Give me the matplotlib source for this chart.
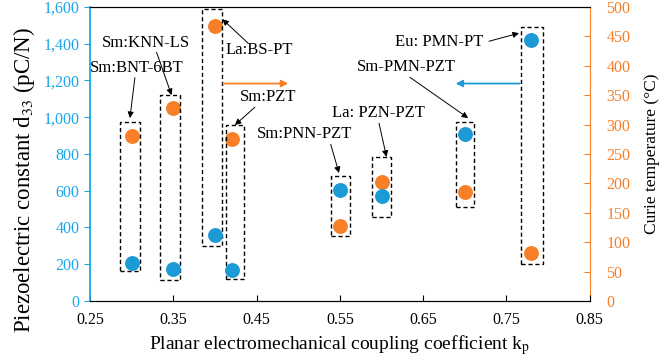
import matplotlib
matplotlib.use("Agg")
import matplotlib.pyplot as plt
from matplotlib.patches import Rectangle
from matplotlib.ticker import FuncFormatter

plt.rcParams['font.family'] = ['Liberation Serif', 'DejaVu Serif']
plt.rcParams['mathtext.fontset'] = 'stix'

BLUE = '#1c9ad6'
ORANGE = '#f77f27'
AX_BLUE = '#1aa7e8'

# data
kp = [0.30, 0.35, 0.40, 0.42, 0.55, 0.60, 0.70, 0.78]
d33 = [205, 175, 360, 170, 605, 570, 910, 1420]
tc = [280, 328, 467, 275, 128, 203, 185, 82]
names = ['Sm:BNT-6BT', 'Sm:KNN-LS', 'La:BS-PT', 'Sm:PZT',
         'Sm:PNN-PZT', 'La: PZN-PZT', 'Sm-PMN-PZT', 'Eu: PMN-PT']
# dashed boxes (x0, x1, y0, y1) in kp / d33 units
boxes = [(0.286, 0.310, 163, 975), (0.334, 0.358, 114, 1123),
         (0.384, 0.408, 299, 1590), (0.413, 0.435, 120, 960),
         (0.539, 0.562, 353, 680), (0.589, 0.611, 455, 784),
         (0.689, 0.711, 512, 975), (0.768, 0.794, 201, 1491)]
# label position and arrow head position
label_xy = [(0.306, 1266), (0.317, 1402), (0.453, 1364), (0.464, 1109),
            (0.508, 908), (0.596, 1022), (0.630, 1272), (0.669, 1408)]
tail_xy = [(0.304, 1215), (0.330, 1353), (0.440, 1402), (0.448, 1054),
           (0.539, 852), (0.597, 967), (0.634, 1217), (0.729, 1413)]
head_xy = [(0.298, 995), (0.348, 1120), (0.409, 1533), (0.424, 957),
           (0.549, 696), (0.606, 784), (0.704, 995), (0.765, 1457)]

fig = plt.figure(figsize=(6.71, 3.63), dpi=100)
ax = fig.add_axes([0.134, 0.171, 0.745, 0.810])
ax2 = ax.twinx()
ax.set_zorder(ax2.get_zorder() + 1)
ax.patch.set_visible(False)

ax2.scatter(kp, tc, s=115, color=ORANGE, zorder=3, linewidths=0)
ax.scatter(kp, d33, s=115, color=BLUE, zorder=3, linewidths=0)

for x0, x1, y0, y1 in boxes:
    ax.add_patch(Rectangle((x0, y0), x1 - x0, y1 - y0, fill=False,
                           ls=(0, (3, 2)), lw=1.0, ec='black', zorder=2))

for name, lxy, txy, hxy in zip(names, label_xy, tail_xy, head_xy):
    ax.text(lxy[0], lxy[1], name, fontsize=12, ha='center', va='center')
    ax.annotate('', xy=hxy, xytext=txy,
                arrowprops=dict(arrowstyle='-|>', color='black', lw=0.7,
                                mutation_scale=9, shrinkA=0, shrinkB=0))

# direction arrows for the two axes
ax.annotate('', xy=(0.488, 1183), xytext=(0.410, 1183),
            arrowprops=dict(arrowstyle='-|>', color=ORANGE, lw=1.3,
                            mutation_scale=10, shrinkA=0, shrinkB=0))
ax.annotate('', xy=(0.689, 1183), xytext=(0.766, 1183),
            arrowprops=dict(arrowstyle='-|>', color=BLUE, lw=1.3,
                            mutation_scale=10, shrinkA=0, shrinkB=0))

ax.set_xlim(0.25, 0.85)
ax.set_ylim(0, 1600)
ax2.set_ylim(0, 500)
ax.set_xticks([0.25, 0.35, 0.45, 0.55, 0.65, 0.75, 0.85])
ax.set_yticks(range(0, 1601, 200))
ax2.set_yticks(range(0, 501, 50))
ax.yaxis.set_major_formatter(FuncFormatter(lambda v, p: '{:,.0f}'.format(v)))

ax.tick_params(axis='x', direction='in', length=4, labelsize=11.5, pad=8)
ax.tick_params(axis='y', direction='out', length=4, colors=AX_BLUE, labelsize=11.5)
ax2.tick_params(axis='y', direction='in', length=4, colors=ORANGE,
                labelsize=11.5, pad=12)

ax.spines['left'].set_color(AX_BLUE)
ax.spines['left'].set_linewidth(1.3)
ax2.spines['left'].set_visible(False)
ax2.spines['right'].set_color(ORANGE)
ax.spines['right'].set_visible(False)

ax.set_xlabel('Planar electromechanical coupling coefficient k$_\\mathrm{p}$',
              fontsize=14, labelpad=4)
ax.set_ylabel('Piezoelectric constant d$_{33}$ (pC/N)', fontsize=16.5)
ax.yaxis.set_label_coords(-0.105, 0.41)
ax2.set_ylabel('Curie temperature (°C)', fontsize=12.5, labelpad=10)

fig.savefig('out.png', dpi=100)
